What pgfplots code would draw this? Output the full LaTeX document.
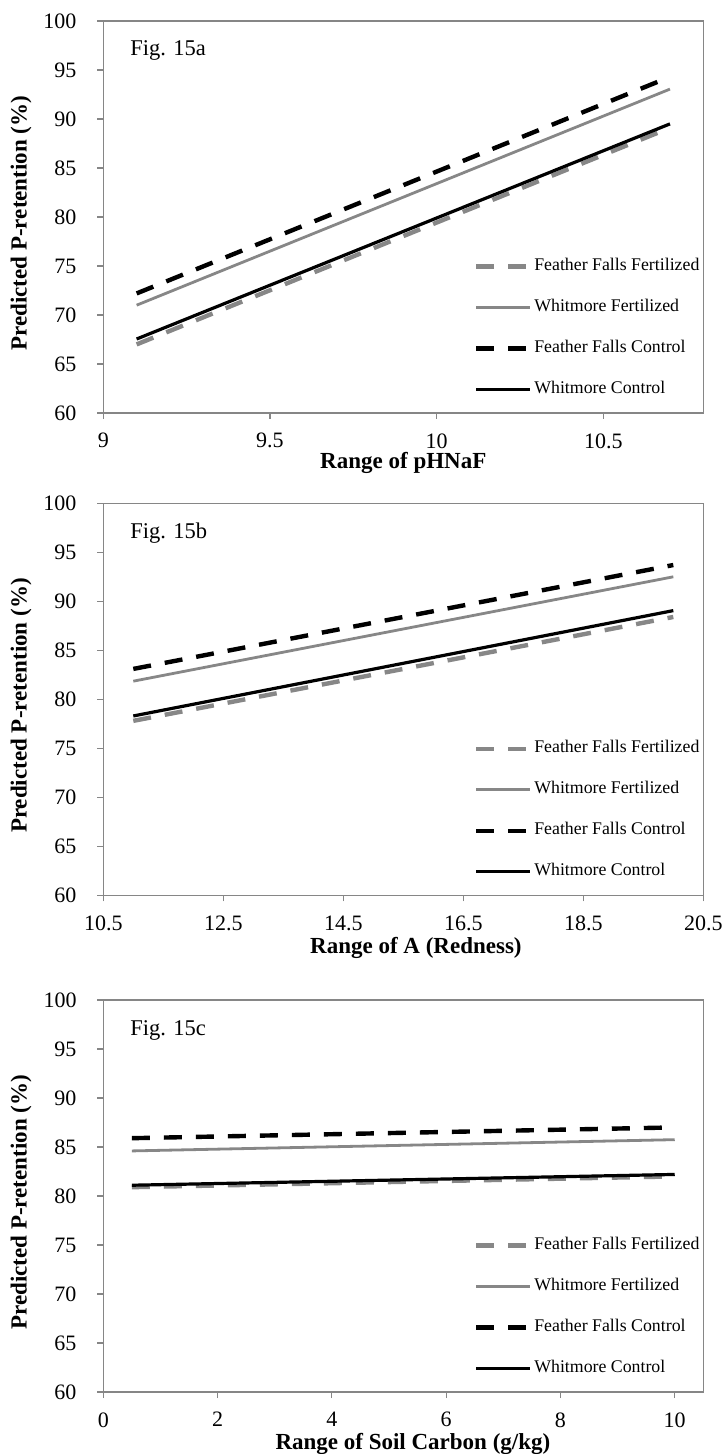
\documentclass[border=0pt]{standalone}
\usepackage{fontspec}
\setmainfont{Liberation Serif}
\usepackage{pgfplots}
\pgfplotsset{compat=1.18}
\definecolor{axgray}{RGB}{134,134,134}
\definecolor{lgray}{RGB}{135,135,135}

\pgfplotsset{
  panel/.style={
    scale only axis, width=300pt, height=196pt,
    anchor=north west,
    ymin=60, ymax=100, ytick={60,65,...,100},
    axis line style={axgray, line width=0.6pt},
    every tick/.style={axgray, line width=0.6pt},
    tick align=outside, major tick length=3pt,
    xtick pos=bottom, ytick pos=left,
    /pgf/number format/assume math mode=true,
    tick label style={font=\fontsize{11}{13}\selectfont, text=black},
    yticklabel style={anchor=east, inner sep=0pt, xshift=-10.2pt},
    xticklabel style={anchor=north, inner sep=0pt, yshift=-7pt},
    label style={font=\fontsize{11.5}{13}\selectfont\bfseries},
    ylabel={Predicted P-retention (\%)},
    ylabel style={at={(axis description cs:-0.137,0.484)}, anchor=center, rotate=0},
    clip=false,
    legend cell align=left,
    legend image code/.code={\draw[##1] (0pt,0pt) -- (26.7pt,0pt);},
    legend style={anchor=north west, draw=none, fill=none, inner sep=0pt,
      row sep=12.5pt, column sep=1.3pt,
      nodes={inner sep=0pt, anchor=west, font=\fontsize{8.9}{10}\selectfont, text height=6pt, text depth=2pt}},
  },
  ffF/.style={lgray, line width=2.2pt, dash pattern=on 9pt off 7pt},
  wF/.style={lgray, line width=1.4pt},
  ffC/.style={black, line width=2.2pt, dash pattern=on 9pt off 7pt},
  wC/.style={black, line width=1.6pt},
}

\begin{document}
\begin{tikzpicture}
\path[use as bounding box] (0pt,0pt) rectangle (363pt,-727pt);

% Panel a
\begin{axis}[panel, at={(51.65pt,-10.5pt)},
  xmin=9, xmax=10.8, xtick={9,9.5,10,10.5},
  xlabel={Range of pHNaF},
  xlabel style={at={(axis description cs:0.5,0)}, anchor=center, yshift=-25pt},
  legend style={at={(axis description cs:0.617,0.3954)}}]
\addplot[ffF] coordinates {(9.1,67.0) (10.7,89.1)};
\addlegendentry{Feather Falls Fertilized}
\addplot[wF] coordinates {(9.1,71.0) (10.7,93.05)};
\addlegendentry{Whitmore Fertilized}
\addplot[ffC] coordinates {(9.1,72.2) (10.7,94.3)};
\addlegendentry{Feather Falls Control}
\addplot[wC] coordinates {(9.1,67.55) (10.7,89.5)};
\addlegendentry{Whitmore Control}
\node[anchor=base west, font=\fontsize{11.25}{13}\selectfont] at (axis description cs:0.0333,0.9107) {Fig. 15a};
\end{axis}

% Panel b
\begin{axis}[panel, at={(51.65pt,-251.65pt)},
  xmin=10.5, xmax=20.5, xtick={10.5,12.5,...,20.5},
  xticklabel={\pgfmathprintnumber[fixed,precision=1,fixed zerofill]{\tick}},
  xlabel={Range of A (Redness)},
  xlabel style={at={(axis description cs:0.521,0)}, anchor=center, yshift=-26.5pt},
  legend style={at={(axis description cs:0.617,0.3954)}}]
\addplot[ffF] coordinates {(11,77.8) (20,88.4)};
\addlegendentry{Feather Falls Fertilized}
\addplot[wF] coordinates {(11,81.85) (20,92.5)};
\addlegendentry{Whitmore Fertilized}
\addplot[ffC] coordinates {(11,83.1) (20,93.7)};
\addlegendentry{Feather Falls Control}
\addplot[wC] coordinates {(11,78.3) (20,89.05)};
\addlegendentry{Whitmore Control}
\node[anchor=base west, font=\fontsize{11.25}{13}\selectfont] at (axis description cs:0.0333,0.9107) {Fig. 15b};
\end{axis}

% Panel c
\begin{axis}[panel, at={(51.65pt,-500pt)},
  xmin=0, xmax=10.5, xtick={0,2,...,10},
  xlabel={Range of Soil Carbon (g/kg)},
  xlabel style={at={(axis description cs:0.516,0)}, anchor=center, yshift=-26pt},
  legend style={at={(axis description cs:0.617,0.3954)}}]
\addplot[ffF] coordinates {(0.5,80.9) (10,82.0)};
\addlegendentry{Feather Falls Fertilized}
\addplot[wF] coordinates {(0.5,84.6) (10,85.75)};
\addlegendentry{Whitmore Fertilized}
\addplot[ffC] coordinates {(0.5,85.9) (10,87.0)};
\addlegendentry{Feather Falls Control}
\addplot[wC] coordinates {(0.5,81.1) (10,82.2)};
\addlegendentry{Whitmore Control}
\node[anchor=base west, font=\fontsize{11.25}{13}\selectfont] at (axis description cs:0.0333,0.9107) {Fig. 15c};
\end{axis}
\end{tikzpicture}
\end{document}
